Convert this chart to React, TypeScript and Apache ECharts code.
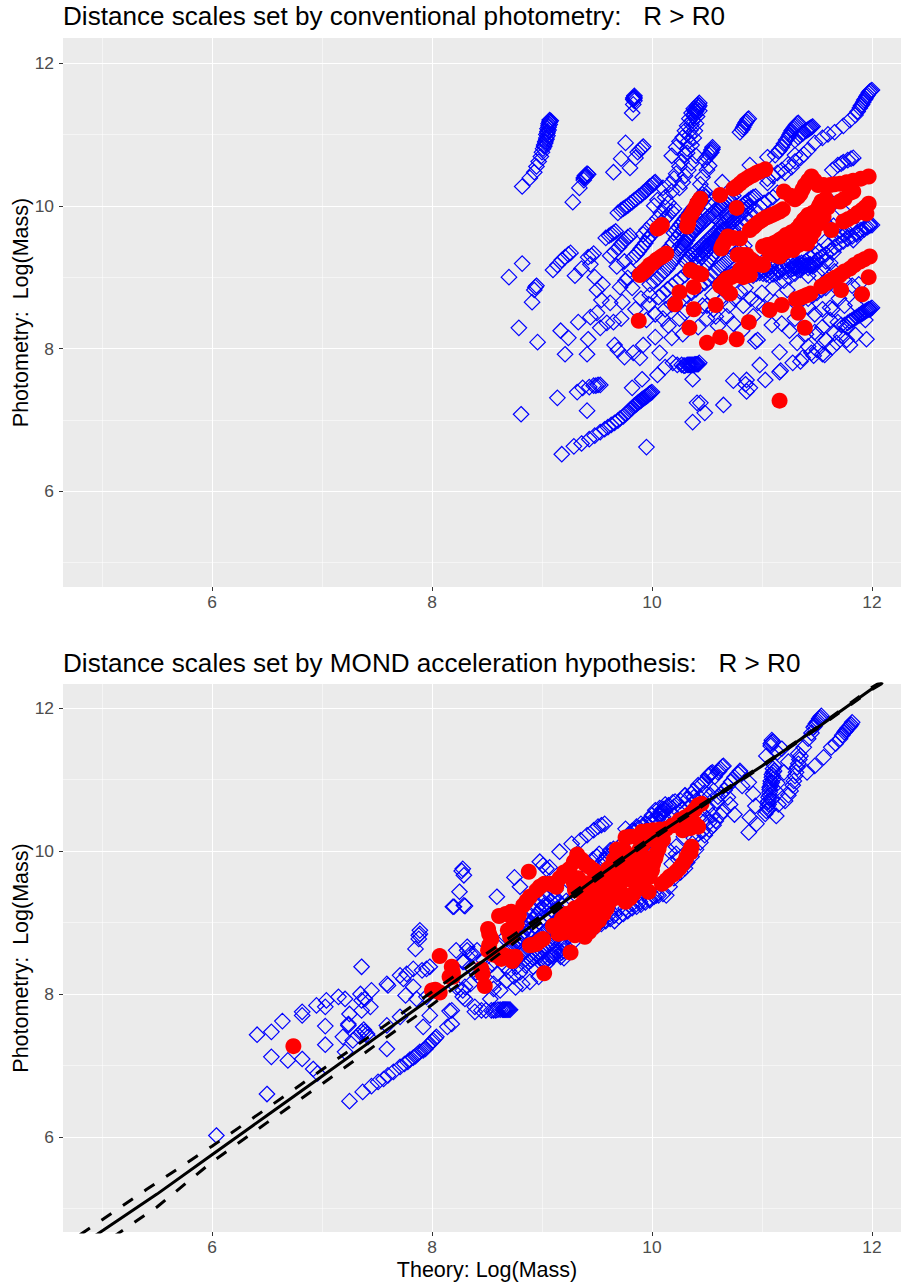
import React, { useEffect, useRef } from "react";
import * as echarts from "echarts";

const xMajor = [6, 8, 10, 12];
const yMajor = [6, 8, 10, 12];
const minorTicks = [5, 7, 9, 11];
const titleTop = "Distance scales set by conventional photometry:   R > R0";
const titleBottom = "Distance scales set by MOND acceleration hypothesis:   R > R0";
const yTitle = "Photometry:  Log(Mass)";
const xTitle = "Theory: Log(Mass)";

const blueTop: number[][] = [
[8.82,10.27],[8.89,10.39],[8.93,10.47],[8.95,10.55],[8.97,10.62],[8.99,10.69],[9.0,10.75],[9.01,10.8],[9.02,10.85],[9.03,10.9],[9.04,10.95],[9.04,11.0],[9.05,11.04],[9.05,11.08],[9.06,11.12],[9.06,11.15],[9.07,11.18],[9.07,11.2],[9.02,10.83],[9.03,10.88],[9.04,10.93],[9.05,10.98],[9.05,11.02],[9.06,11.06],[9.06,11.1],[9.07,11.14],[9.07,11.17],[9.08,11.19],
[9.82,11.3],[9.83,11.42],[9.84,11.47],[9.84,11.5],[9.84,11.52],[9.84,11.54],[9.83,11.49],[9.83,11.51],
[9.28,10.05],[9.34,10.25],[9.38,10.36],[9.39,10.4],[9.4,10.43],[9.41,10.45],[9.38,10.39],[9.39,10.42],[9.4,10.41],[9.42,10.44],
[9.65,10.47],[9.72,10.66],[9.76,10.88],[9.8,10.53],[9.85,10.67],[9.87,10.75],[9.89,10.78],[9.91,10.81],[9.92,10.83],
[9.69,9.9],[9.72,9.94],[9.74,9.96],[9.76,9.98],[9.78,10.0],[9.8,10.03],[9.82,10.05],[9.84,10.08],[9.86,10.1],[9.88,10.13],[9.9,10.15],[9.92,10.18],[9.94,10.2],[9.95,10.22],[9.97,10.25],[9.98,10.27],[10.0,10.29],[10.01,10.3],[10.02,10.32],[10.03,10.33],
[9.18,6.52],[9.29,6.63],[9.36,6.67],[9.43,6.73],[9.48,6.78],[9.53,6.83],[9.57,6.87],[9.6,6.9],[9.63,6.93],[9.66,6.96],[9.69,6.99],[9.71,7.02],[9.74,7.05],[9.76,7.08],[9.78,7.11],[9.8,7.14],[9.82,7.17],[9.84,7.2],[9.85,7.21],[9.86,7.22],[9.87,7.24],[9.88,7.25],[9.89,7.26],[9.9,7.27],[9.91,7.29],[9.92,7.3],[9.93,7.31],[9.94,7.32],[9.95,7.33],[9.96,7.34],[9.97,7.36],[9.98,7.37],[9.99,7.38],[10.0,7.39],
[8.7,9.0],[8.82,9.19],[8.94,8.86],[8.93,8.82],[8.95,8.88],[8.91,8.65],[8.79,8.29],[8.96,8.09],[9.17,8.25],[9.33,8.37],[9.24,8.15],[9.21,7.92],[9.42,8.13],[9.41,7.92],[9.54,8.68],[9.48,9.0],[9.5,8.5],[9.44,8.44],[9.53,8.29],[9.59,8.36],[9.65,8.37],[9.62,8.64],[9.73,8.65],[9.71,8.86],[9.78,8.99],[9.66,8.05],[9.69,7.98],[9.75,7.88],[9.83,7.94],[9.89,7.87],[9.92,8.05],[10.03,8.16],[10.07,7.94],[10.12,7.74],[10.05,7.63],[9.91,7.57],[9.82,7.45],
[9.43,7.46],[9.47,7.48],[9.49,7.48],[9.51,7.49],[9.53,7.49],[9.37,7.45],[9.32,7.39],[9.14,7.31],[9.41,7.13],[8.81,7.08],[9.95,6.62],[10.37,6.97],[10.41,7.24],[10.37,7.57],
[10.19,7.8],[10.23,7.77],[10.27,7.77],[10.29,7.76],[10.3,7.76],[10.32,7.77],[10.33,7.77],[10.34,7.77],[10.35,7.77],[10.36,7.77],[10.37,7.77],[10.38,7.77],[10.39,7.78],[10.4,7.78],[10.41,7.78],[10.42,7.78],[10.43,7.8],
[10.65,7.21],[10.48,7.1],[10.44,7.24],[10.86,7.56],[10.74,7.55],[10.89,7.45],[10.85,7.5],[10.86,7.4],[11.03,7.56],[10.98,7.77],[11.16,7.67],[11.17,7.69],[11.16,7.95],[11.28,7.8],[11.37,7.87],[11.35,7.82],[11.45,7.94],[11.5,7.98],[11.55,7.92],[11.57,7.91],[11.47,7.9],[11.32,8.08],[11.42,8.03],[11.48,8.23],[11.64,8.02],[11.68,8.08],[11.8,8.05],[11.77,8.12],[11.95,8.13],[11.85,8.19],[11.72,8.18],[10.96,8.12],[10.94,8.1],[11.09,8.33],[10.96,8.64],[10.83,8.6],[11.23,8.82],[11.48,8.48],[11.62,8.57],[11.64,8.55],[11.69,8.37],[11.77,8.3],[11.72,8.33],
[11.75,8.33],[11.78,8.36],[11.8,8.38],[11.82,8.4],[11.84,8.42],[11.86,8.44],[11.88,8.46],[11.89,8.47],[11.9,8.48],[11.91,8.49],[11.92,8.5],[11.93,8.51],[11.94,8.52],[11.95,8.53],[11.96,8.54],[11.97,8.55],[11.98,8.55],[11.99,8.56],[12.0,8.57],
[11.05,10.68],[11.16,10.78],[11.3,10.71],[11.21,10.46],[11.27,10.54],[11.35,10.67],[11.42,10.78],[11.48,10.88],[11.55,10.95],[11.6,11.0],[11.66,11.03],[11.74,11.12],[11.8,11.2],[11.85,11.27],[11.87,11.32],[11.89,11.37],[11.9,11.4],[11.91,11.42],[11.92,11.45],[11.93,11.48],[11.94,11.5],[11.95,11.53],[11.96,11.55],[11.97,11.58],[11.98,11.6],[11.99,11.61],[12.0,11.62],
[11.12,10.71],[11.15,10.76],[11.18,10.82],[11.2,10.87],[11.22,10.92],[11.24,10.96],[11.25,10.99],[11.26,11.02],[11.27,11.05],[11.28,11.07],[11.29,11.09],[11.3,11.11],[11.31,11.13],[11.32,11.15],[11.33,11.16],
[11.3,10.92],[11.33,10.96],[11.35,10.99],[11.37,11.01],[11.38,11.03],[11.4,11.05],[11.41,11.06],[11.42,11.07],[11.43,11.08],[11.44,11.09],[11.45,11.1],[11.46,11.11],
[10.8,11.03],[10.82,11.07],[10.83,11.1],[10.84,11.13],[10.85,11.16],[10.86,11.18],[10.87,11.21],[10.88,11.22],
[10.89,10.57],[10.64,10.33],[11.05,10.32],[10.48,10.64],[10.5,10.68],[10.53,10.74],[10.54,10.78],[10.55,10.82],[10.52,10.71],[10.54,10.75],[10.55,10.79],
[10.2,10.38],[10.22,10.45],[10.25,10.55],[10.27,10.62],[10.3,10.71],[10.32,10.8],[10.33,10.9],[10.34,10.98],[10.35,11.06],[10.36,11.14],[10.37,11.2],[10.38,11.26],[10.39,11.32],[10.4,11.36],[10.41,11.4],[10.42,11.42],[10.43,11.44],[10.39,11.28],[10.4,11.32],[10.41,11.35],[10.42,11.38],[10.43,11.4],
[10.18,10.7],[10.22,10.82],[10.25,10.9],[10.28,10.96],[10.3,11.05],[10.32,11.12],[10.34,11.22],[10.36,11.3],[10.38,11.36],[10.32,10.74],[10.36,10.85],[10.38,10.95],[10.39,11.05],[10.4,11.15],[10.41,11.25],[10.43,11.33],
[10.5,10.5],[10.52,10.56],[10.46,10.4],[10.44,10.3],[10.18,10.2],[10.12,10.12],[10.16,10.3],[10.1,10.25],[10.25,10.25],[10.28,10.33],[10.3,10.42],[10.33,10.5],[10.36,10.6],[10.4,10.7],
[11.44,9.28],[11.48,9.32],[11.52,9.36],[11.57,9.49],[11.6,9.44],[11.65,9.35],[11.68,9.55],[11.72,9.58],[11.75,9.6],[11.78,9.63],[11.83,9.52],[11.86,9.6],[11.9,9.63],[11.93,9.67],[11.96,9.7],[11.98,9.72],[12.0,9.73],
[11.64,10.5],[11.69,10.57],[11.72,10.59],[11.74,10.61],[11.78,10.64],[11.81,10.66],[11.83,10.67],
[11.73,9.94],[11.6,10.1],
[9.98,8.9],[10.02,8.94],[10.05,8.98],[10.08,9.03],[10.11,9.08],[10.14,9.12],[10.16,9.17],[10.19,9.22],[10.21,9.27],[10.24,9.32],[10.26,9.37],[10.28,9.42],[10.3,9.47],[10.32,9.52],[10.34,9.57],[10.36,9.62],[10.38,9.66],[10.4,9.7],[10.42,9.74],[10.44,9.78],
[10.06,8.72],[10.1,8.77],[10.14,8.83],[10.18,8.88],[10.22,8.93],[10.26,8.98],[10.3,9.03],[10.33,9.08],[10.36,9.13],[10.39,9.18],[10.42,9.23],[10.45,9.28],[10.48,9.33],[10.5,9.38],[10.53,9.43],[10.56,9.48],[10.58,9.53],[10.6,9.58],[10.62,9.62],[10.64,9.66],
[10.28,8.7],[10.32,8.74],[10.36,8.78],[10.4,8.83],[10.44,8.88],[10.48,8.92],[10.51,8.97],[10.54,9.02],[10.57,9.07],[10.6,9.12],[10.63,9.16],[10.66,9.2],[10.69,9.24],[10.72,9.28],[10.75,9.32],[10.78,9.36],[10.81,9.4],[10.84,9.44],
[10.1,9.3],[10.13,9.36],[10.16,9.42],[10.19,9.48],[10.22,9.54],[10.25,9.6],[10.28,9.66],[10.3,9.72],[10.33,9.78],[10.36,9.84],[10.38,9.9],[10.41,9.96],[10.43,10.02],[10.45,10.06],[10.47,10.1],[10.49,10.13],
[9.83,9.28],[9.86,9.32],[9.88,9.36],[9.9,9.4],[9.92,9.44],[9.94,9.48],[9.96,9.53],[9.98,9.57],[10.0,9.6],[10.03,9.66],[10.06,9.72],[10.09,9.77],[10.12,9.82],[10.15,9.87],[10.18,9.92],[10.2,9.96],
[9.62,9.3],[9.66,9.36],[9.7,9.42],[9.72,9.46],[9.74,9.5],[9.76,9.53],[9.78,9.56],[9.8,9.58],[9.68,9.15],[9.75,9.22],[9.8,9.1],[9.88,9.05],[9.76,8.95],[9.82,8.85],[9.9,8.7],[9.97,8.62],[9.95,8.4],[10.03,8.48],[10.12,8.55],[10.15,8.32],[10.25,8.42],[10.18,8.15],[10.28,8.2],[10.42,8.3],[10.5,8.42],[10.58,8.45],[10.46,8.6],[10.55,8.75],[10.6,8.32],[10.68,8.45],[10.74,8.35],[10.82,8.25],
[9.1,9.1],[9.14,9.17],[9.18,9.24],[9.21,9.28],[9.24,9.32],[9.26,9.34],[9.3,9.02],[9.36,9.12],[9.44,9.18],[9.5,8.82],[9.55,8.9],
[9.58,9.55],[9.61,9.58],[9.63,9.6],[9.65,9.62],[9.67,9.64],[9.42,9.28],[9.45,9.3],[9.47,9.33],
[10.6,8.9],[10.64,8.95],[10.68,9.0],[10.72,9.04],[10.76,9.08],[10.8,9.12],[10.84,9.14],[10.88,9.16],[10.92,9.18],[10.96,9.2],[11.0,9.2],[11.04,9.14],[11.08,9.14],[11.12,9.15],[11.16,9.15],[11.2,9.14],[11.24,9.15],[11.28,9.16],[11.32,9.18],[11.36,9.2],[11.4,9.22],[11.44,9.16],[11.48,9.2],
[10.7,9.55],[10.74,9.62],[10.78,9.68],[10.82,9.74],[10.86,9.8],[10.9,9.86],[10.94,9.92],[10.98,9.98],[11.02,10.04],[11.06,10.08],[11.1,10.12],[11.14,10.18],
[10.52,10.02],[10.56,10.08],[10.6,9.92],[10.65,10.0],[10.7,10.08],[10.74,10.14],[10.56,9.86],[10.62,9.78],[10.68,9.85],
[11.2,8.95],[11.25,9.0],[11.3,9.05],[11.35,9.1],[11.1,8.85],[11.0,8.78],[10.9,8.7],[10.85,8.85],[11.42,8.7],[11.46,8.74],[11.5,8.78],[11.54,8.82],[11.58,8.85],[11.62,8.4],[11.55,8.3],[11.5,8.2],[11.58,8.12],[11.66,8.22],[11.25,8.25],[11.18,8.35],[11.3,8.42],[11.4,8.2],[11.15,9.42],[11.25,9.38],[11.58,9.22],[11.66,9.08],[11.75,8.95],[11.82,8.88],[11.88,8.9],[11.9,8.75],[11.94,8.4],[11.85,8.62],[11.7,8.7],
];

const blueTopDense: number[][] = [
[10.3,9.22],[10.32,9.25],[10.34,9.28],[10.36,9.31],[10.38,9.33],[10.4,9.36],[10.42,9.39],[10.44,9.42],[10.46,9.45],[10.48,9.48],[10.5,9.51],[10.52,9.54],[10.54,9.57],[10.56,9.6],[10.58,9.63],[10.6,9.66],[10.62,9.7],[10.64,9.73],[10.66,9.76],[10.68,9.79],[10.7,9.82],[10.72,9.85],[10.74,9.88],[10.76,9.91],[10.78,9.94],[10.8,9.97],[10.82,10.0],[10.84,10.03],[10.86,10.05],[10.88,10.08],[10.9,10.1],[10.92,10.12],[10.94,10.13],
[10.24,9.4],[10.26,9.44],[10.28,9.47],[10.3,9.5],[10.32,9.54],[10.34,9.58],[10.36,9.61],[10.38,9.64],[10.4,9.67],[10.42,9.7],[10.44,9.73],[10.46,9.76],[10.48,9.79],[10.5,9.82],[10.52,9.85],[10.54,9.88],[10.56,9.91],[10.58,9.94],[10.6,9.97],[10.62,10.0],[10.64,10.03],[10.66,10.06],[10.68,10.08],[10.7,10.1],[10.72,10.12],
[10.4,9.28],[10.42,9.31],[10.44,9.34],[10.46,9.37],[10.48,9.4],[10.5,9.43],[10.52,9.46],[10.54,9.49],[10.56,9.52],[10.58,9.55],[10.6,9.58],[10.62,9.6],[10.64,9.63],[10.66,9.66],[10.68,9.69],[10.7,9.72],[10.72,9.75],[10.74,9.78],[10.76,9.81],[10.78,9.84],[10.8,9.87],[10.82,9.9],[10.84,9.93],[10.86,9.96],[10.88,9.99],
[10.2,9.62],[10.22,9.66],[10.24,9.7],[10.26,9.74],[10.28,9.78],[10.3,9.82],[10.32,9.86],[10.34,9.9],[10.36,9.94],[10.38,9.98],[10.42,10.08],[10.44,10.12],[10.46,10.16],[10.48,10.2],
[10.5,9.2],[10.52,9.24],[10.54,9.28],[10.56,9.32],[10.58,9.36],[10.6,9.4],[10.62,9.44],[10.64,9.48],[10.66,9.52],[10.68,9.56],[10.7,9.6],[10.72,9.64],[10.74,9.68],
[11.28,9.12],[11.3,9.13],[11.32,9.14],[11.34,9.15],[11.36,9.16],[11.38,9.15],[11.4,9.16],[11.42,9.17],[11.44,9.18],[11.46,9.15],[11.48,9.17],[11.3,9.18],[11.34,9.19],[11.38,9.2],[11.42,9.13],[11.36,9.12],[11.33,9.1],
[10.92,9.02],[10.95,9.05],[10.98,9.06],[11.01,9.05],[11.04,9.04],[11.07,9.02],[11.1,9.04],[11.13,9.05],[11.16,9.07],[11.02,9.1],[11.05,9.1],[11.08,9.08],[10.98,9.12],
[11.15,9.1],[11.18,9.12],[11.22,9.08],[11.26,9.1],
[11.5,9.24],[11.54,9.28],[11.58,9.32],[11.62,9.37],[11.66,9.42],[11.7,9.46],[11.74,9.5],[11.78,9.54],[11.82,9.57],[11.86,9.62],[11.9,9.66],[11.94,9.7],[11.98,9.74],
[11.05,10.38],[11.1,10.42],[11.14,10.46],[11.18,10.5],[11.24,10.58],[11.3,10.62],[11.38,10.72],
[10.5,8.6],[10.56,8.55],[10.62,8.65],[10.7,8.6],[10.75,8.7],[10.8,8.8],[10.92,8.45],[11.02,8.58],[11.12,8.65],[10.3,8.5],[10.18,8.62],[10.1,8.42],[9.98,8.75],[9.85,8.55],[9.72,8.42],[11.55,8.55],[11.42,8.58],[11.32,8.62],[11.75,8.6],
[11.65,9.72],[11.58,9.75],[11.7,9.65],[11.8,9.74],[11.85,9.7],[11.5,9.05],[11.55,9.12],[11.62,9.2],[11.68,8.85],[11.42,9.02],
[10.05,9.82],[10.08,9.9],[10.12,9.98],[10.15,10.04],[10.0,9.74],[9.95,9.66],[9.92,9.6],[10.02,10.0],[10.05,10.08],
];

const redTop: number[][] = [
[9.88,8.39],[9.89,9.03],[9.92,9.07],[9.94,9.1],[9.96,9.13],[9.98,9.17],[10.01,9.2],[10.04,9.24],[10.07,9.27],[10.09,9.29],[10.11,9.31],[10.13,9.33],
[10.05,9.68],[10.07,9.7],[10.09,9.73],
[10.32,9.71],[10.33,9.76],[10.33,9.82],[10.36,9.88],[10.38,9.94],[10.4,9.99],[10.41,10.03],[10.43,10.07],[10.44,10.1],
[10.62,10.15],[10.77,9.97],[10.74,10.24],[10.77,10.27],[10.8,10.31],[10.83,10.35],[10.86,10.38],[10.89,10.41],[10.92,10.43],[10.95,10.46],[10.98,10.48],[11.03,10.51],
[10.63,9.4],[10.64,9.44],[10.65,9.47],[10.67,9.52],[10.69,9.57],[10.74,9.55],[10.8,9.54],
[10.89,9.66],[10.92,9.7],[10.94,9.73],[10.97,9.77],[11.0,9.8],[11.03,9.83],[11.06,9.85],[11.09,9.87],[11.12,9.89],[11.16,9.92],[11.19,9.95],
[11.2,10.2],[11.26,10.14],[11.3,10.09],[11.33,10.13],[11.35,10.17],[11.37,10.23],[11.39,10.29],[11.42,10.35],[11.45,10.41],[11.48,10.35],[11.51,10.29],[11.56,10.29],[11.62,10.29],[11.66,10.3],[11.71,10.31],[11.77,10.33],[11.83,10.35],[11.9,10.38],[11.97,10.41],[11.83,10.2],[11.71,10.06],[11.75,10.1],[11.8,10.18],[11.63,9.66],
[11.54,10.06],[11.52,10.0],[11.5,9.94],[11.46,9.9],[11.42,9.87],[11.4,9.83],[11.38,9.8],[11.35,9.74],[11.32,9.68],[11.27,9.63],[11.22,9.59],[11.19,9.55],[11.16,9.52],[11.13,9.49],[11.1,9.47],[11.05,9.45],[11.01,9.43],[11.16,9.29],[11.12,9.31],[11.07,9.33],[11.25,9.43],[11.33,9.45],[11.41,9.47],[11.47,9.64],[11.44,9.55],[11.52,9.75],[11.56,9.85],[11.6,9.98],[11.58,10.1],
[11.2,9.35],[11.28,9.38],[11.36,9.55],[11.28,9.52],[11.2,9.46],[11.12,9.4],[11.42,9.65],[11.36,9.66],[11.48,9.78],[11.54,9.95],[11.46,9.72],
[11.74,9.78],[11.78,9.81],[11.83,9.85],[11.87,9.9],[11.91,9.94],[11.94,9.98],[11.97,10.03],[11.95,9.89],
[10.78,9.31],[10.82,9.31],[10.86,9.31],[10.9,9.25],[10.94,9.19],[10.98,9.18],[11.01,9.17],[10.89,9.03],[10.83,9.0],[10.77,9.03],[10.72,9.0],[10.68,8.98],[10.65,8.93],[10.62,8.88],[10.67,8.83],[10.71,8.77],[10.8,9.1],[10.86,9.1],[10.9,9.15],
[10.35,9.1],[10.45,9.04],[10.41,9.06],[10.38,8.86],[10.25,8.79],[10.21,8.62],[10.38,8.55],[10.34,8.29],[10.58,8.61],
[11.54,8.87],[11.58,8.91],[11.62,8.95],[11.66,8.99],[11.71,9.03],[11.75,9.08],[11.8,9.12],[11.84,9.17],[11.89,9.22],[11.93,9.25],[11.98,9.29],
[11.97,9.0],[11.91,8.76],[11.72,8.82],[11.31,8.69],[11.44,8.77],[11.38,8.73],[11.35,8.71],[11.41,8.75],[11.18,8.61],[11.07,8.54],[11.33,8.5],[11.39,8.29],[10.88,8.37],[10.62,8.16],[10.77,8.13],[10.5,8.08],[11.16,7.27],
];

const blueBottom: number[][] = [
[11.41,11.1],[11.48,11.19],[11.56,11.31],[11.63,11.45],[11.67,11.5],[11.71,11.57],[11.73,11.62],[11.75,11.66],[11.76,11.68],[11.77,11.7],[11.78,11.72],[11.79,11.73],[11.8,11.75],[11.81,11.77],[11.82,11.8],
[11.38,11.45],[11.42,11.57],[11.45,11.65],[11.47,11.73],[11.48,11.75],[11.49,11.78],[11.5,11.8],[11.51,11.82],[11.52,11.85],[11.53,11.87],[11.54,11.89],
[10.88,10.26],[10.95,10.38],[11.03,10.52],[11.04,10.56],[11.05,10.62],[11.06,10.75],[11.06,10.7],[11.07,10.82],[11.07,10.89],[11.08,10.94],[11.08,10.98],[11.09,11.03],[11.09,11.07],[11.1,11.1],[11.1,11.15],[11.11,11.2],[11.05,10.68],[11.06,10.58],[11.09,10.72],[11.12,10.85],[11.14,10.95],[11.15,10.65],[11.06,10.65],[11.07,10.78],[11.07,10.86],[11.08,10.91],[11.09,10.96],[11.1,11.0],[11.1,11.05],[11.11,11.12],
[11.13,10.49],[11.21,10.7],[11.24,10.78],[11.26,10.84],[11.28,10.92],[11.29,10.98],[11.3,11.05],[11.31,11.1],[11.32,11.17],[11.33,11.22],[11.34,11.28],[11.35,11.33],[11.33,11.36],
[11.09,11.52],[11.08,11.5],[11.08,11.47],[11.1,11.53],[11.09,11.55],[11.04,11.33],[11.18,11.43],[11.14,11.38],[11.2,11.1],[11.24,11.25],
[10.75,10.51],[10.89,10.47],[10.94,10.63],[10.92,10.8],[10.82,10.91],[10.88,10.96],[10.8,11.1],
[10.19,10.68],[10.3,10.77],[10.38,10.84],[10.45,10.93],[10.48,10.98],[10.51,11.05],[10.52,11.06],[10.53,11.08],[10.54,11.09],[10.55,11.1],
[10.65,11.19],[10.64,11.18],[10.62,11.15],[10.61,11.12],[10.6,11.1],[10.57,11.04],[10.8,11.12],[10.78,11.08],[10.75,11.03],[10.72,10.97],[10.69,10.91],[10.66,10.85],[10.63,10.8],[10.6,10.76],[10.56,10.84],[10.53,10.78],[10.47,10.5],[10.59,10.7],[10.69,10.75],[10.65,10.56],[10.71,10.65],[10.5,10.6],[10.55,10.5],[10.42,10.46],
[10.12,10.56],[10.07,10.6],[10.12,10.65],
[6.5,6.6],[6.41,7.43],[6.54,7.47],[6.64,7.62],[6.54,7.12],[6.69,7.07],[6.82,7.09],[6.82,7.75],[6.82,7.7],[6.92,6.95],[6.96,6.89],[6.95,7.84],[7.03,7.55],[7.03,7.29],[7.04,7.91],[7.03,7.82],[7.15,7.96],[7.21,7.93],[7.19,7.4],[7.21,7.19],[7.24,7.56],[7.25,7.72],[7.35,8.0],[7.36,7.91],[7.39,7.93],[7.44,7.82],[7.45,8.05],[7.36,8.38],[7.36,7.77],[7.33,7.42],[7.36,7.47],[7.39,7.47],[7.41,7.44],[7.38,7.5],[7.42,7.4],[7.28,7.35],[7.24,7.58],[7.59,7.56],[7.59,7.23],[7.71,7.68],[7.6,8.12],[7.59,8.14],[7.76,7.98],[7.83,8.1],[7.74,8.21],[7.71,8.26],[7.77,8.28],[7.83,8.35],[7.91,8.33],[7.95,8.35],[7.98,8.38],[7.85,8.63],[7.88,8.77],[7.89,8.84],[7.88,8.82],[7.89,8.89],[7.92,7.54],[8.14,7.54],[7.98,7.7],[8.16,7.76],[7.86,7.93],[7.95,7.96],[8.19,9.22],[8.3,9.23],[8.32,8.61],[8.29,8.45],[8.35,8.56],[8.41,8.61],[8.39,7.82],[8.28,7.96],[8.3,8.1],
[7.25,6.5],[7.37,6.63],[7.45,6.71],[7.51,6.77],[7.56,6.81],[7.6,6.86],[7.65,6.91],[7.71,6.98],[7.75,7.02],[7.78,7.05],[7.8,7.08],[7.83,7.11],[7.85,7.13],[7.87,7.16],[7.89,7.19],[7.92,7.21],[7.94,7.23],[7.96,7.27],[7.98,7.3],[8.0,7.33],[8.01,7.35],[8.03,7.38],[8.04,7.4],
[6.04,6.02],
[8.28,9.75],[8.27,9.72],[8.29,9.66],[8.25,9.43],[8.2,9.22],[8.29,9.24],[8.59,9.36],[8.75,9.63],[8.8,9.5],[8.98,9.85],[9.04,9.75],[9.07,9.77],[9.01,9.8],[9.16,9.99],[9.27,10.1],[9.35,10.15],[9.41,10.22],[9.47,10.29],[9.51,10.34],[9.54,10.36],[9.57,10.38],[9.76,10.31],[10.03,10.57],[10.1,10.59],[10.08,10.52],[10.15,10.64],[10.21,10.69],[10.3,10.78],[10.36,10.8],[10.42,10.92],[9.95,10.38],[9.98,10.45],[10.0,10.5],
[8.76,8.09],[8.89,8.17],[8.97,8.24],[8.82,8.14],[8.68,8.19],[8.62,8.05],[8.56,8.07],[8.53,7.93],[8.3,7.93],[8.39,7.75],[8.45,7.77],[8.49,7.77],[8.54,7.77],[8.56,7.77],[8.58,7.77],[8.6,7.78],[8.62,7.78],[8.64,7.78],[8.65,7.78],[8.66,7.78],[8.67,7.78],[8.68,7.78],[8.69,7.78],[8.7,7.78],[8.71,7.78],[8.18,7.77],[8.18,7.58],
[10.13,9.38],[10.04,9.38],[9.98,9.31],[9.89,9.29],[9.8,9.35],[10.22,10.06],[10.29,10.2],[10.38,10.18],[10.16,10.0],[10.22,9.96],
[9.22,8.66],[9.16,8.56],[9.07,8.47],[8.92,8.38],[8.77,8.38],[9.62,9.12],[9.56,9.87],[9.59,9.94],[9.62,10.01],[9.65,10.03],[10.07,10.5],
[8.32,8.66],[8.22,8.61],[8.37,8.56],[8.28,8.45],[8.35,8.38],[8.47,8.47],[8.59,8.28],[8.56,8.14],[8.35,8.14],[8.28,8.05],[8.22,8.1],
[8.4,8.3],[8.44,8.22],[8.5,8.35],[8.55,8.42],[8.6,8.5],[8.66,8.4],[8.7,8.32],[8.74,8.25],[8.8,8.3],[8.85,8.4],[8.9,8.48],[8.95,8.55],[9.0,8.5],[9.04,8.42],[9.1,8.55],[9.12,8.62],[9.18,8.7],[9.2,8.75],[9.24,8.8],[9.28,8.72],
[8.72,8.62],[8.78,8.72],[8.82,8.78],[8.86,8.84],[8.9,8.9],[8.94,8.95],[8.98,9.0],[9.02,9.06],[9.06,9.1],[9.1,9.16],[9.14,9.2],[9.18,9.25],[8.6,8.7],[8.66,8.78],[8.7,8.85],[8.76,8.92],[8.8,8.98],[8.84,9.04],[8.88,9.1],[8.92,9.16],[8.96,9.22],[9.0,9.28],[9.04,9.34],[9.08,9.4],[9.12,9.45],
[9.3,8.85],[9.36,8.95],[9.42,9.05],[9.48,9.12],[9.54,9.02],[9.6,9.2],[9.66,9.1],[9.7,9.2],[9.75,9.3],[9.72,9.4],[9.68,9.62],[9.72,9.7],[9.78,9.72],[9.6,9.65],[9.35,9.58],[9.38,9.62],[9.4,9.66],[9.42,9.7],[9.44,9.75],[9.22,9.3],[9.2,9.42],
[9.88,10.02],[9.92,10.05],[9.84,10.28],[9.88,10.32],[9.92,10.36],[9.96,10.3],[10.0,10.42],[10.05,10.44],[10.1,10.48],[10.2,10.5],[10.28,10.58],[10.34,10.62],[10.4,10.7],[10.44,10.74],[10.48,10.82],
[10.1,9.55],[10.16,9.5],[10.2,9.62],[10.26,9.7],[10.32,9.84],[10.36,9.92],[10.4,10.02],[10.44,10.12],[10.48,10.22],[10.52,10.3],[10.56,10.36],
];

const blueBottomDense: number[][] = [
[8.78,8.5],[8.8,8.53],[8.82,8.56],[8.84,8.59],[8.86,8.62],[8.88,8.65],[8.9,8.68],[8.92,8.71],[8.94,8.74],[8.96,8.77],[8.98,8.8],[9.0,8.83],[9.02,8.86],[9.04,8.89],[9.06,8.92],[9.08,8.95],[9.1,8.98],[9.12,9.01],[9.14,9.04],[9.16,9.07],
[8.88,8.45],[8.9,8.47],[8.92,8.5],[8.94,8.52],[8.96,8.55],[8.98,8.58],[9.0,8.6],[9.02,8.63],[9.04,8.66],[9.06,8.68],[9.08,8.71],[9.1,8.74],[9.12,8.77],[9.14,8.8],[9.16,8.83],[9.18,8.86],[9.2,8.89],[9.22,8.92],
[9.0,8.42],[9.02,8.45],[9.04,8.48],[9.06,8.5],[9.08,8.53],[9.1,8.52],[9.12,8.56],[9.14,8.58],[9.16,8.6],[9.18,8.58],[9.2,8.6],[9.2,8.5],[9.17,8.52],
[8.68,8.6],[8.7,8.63],[8.72,8.66],[8.74,8.69],[8.76,8.72],[8.78,8.76],[8.8,8.8],[8.82,8.84],[8.84,8.88],[8.86,8.92],[8.88,8.96],[8.9,9.0],[8.92,9.04],[8.94,9.08],[8.96,9.12],[8.98,9.16],[9.0,9.2],[9.02,9.24],[9.04,9.22],[9.06,9.26],[9.08,9.3],[9.1,9.33],[9.12,9.35],
[9.5,8.95],[9.54,8.98],[9.58,9.02],[9.62,9.05],[9.66,9.02],[9.7,9.08],[9.74,9.12],[9.78,9.16],[9.82,9.2],[9.86,9.22],[9.9,9.25],[9.94,9.28],[9.98,9.33],[10.02,9.36],[10.06,9.38],[10.1,9.4],[9.76,9.2],[9.82,9.26],[9.88,9.32],
[9.46,9.88],[9.5,9.92],[9.52,9.96],[9.55,9.84],[9.58,9.88],[9.62,9.95],[9.66,10.0],[9.7,10.05],[9.74,10.12],[9.78,10.22],[9.82,10.28],[9.86,10.34],[9.9,10.38],
[10.0,10.38],[10.04,10.45],[10.06,10.5],[10.08,10.55],[10.1,10.54],[10.12,10.58],[10.14,10.62],[10.2,10.62],[10.26,10.7],[10.32,10.72],[10.38,10.75],
[10.18,9.82],[10.24,9.88],[10.3,9.76],[10.42,10.24],[10.46,10.28],[10.52,10.4],[10.58,10.42],[10.62,10.5],[10.5,10.45],
];

const redBottom: number[][] = [
[6.74,7.27],[8.0,8.05],[8.03,8.06],[8.07,8.53],[8.07,8.02],[8.18,8.38],[8.19,8.3],[8.19,8.24],[8.16,8.24],[8.45,8.35],[8.46,8.28],[8.48,8.11],
[8.51,8.91],[8.52,8.84],[8.54,8.77],[8.52,8.68],[8.51,8.61],[8.56,8.55],[8.63,8.49],[8.7,8.52],[8.76,8.52],[8.73,8.46],[8.66,8.54],
[8.61,9.09],[8.67,9.12],[8.72,9.15],[8.74,9.05],[8.77,8.98],[8.71,8.8],[8.69,8.89],[8.73,8.92],[8.79,9.1],[8.83,9.24],[8.86,9.3],[8.89,9.36],[8.95,9.45],[8.98,9.5],[9.02,9.54],[9.07,9.54],[8.88,9.71],
[8.89,8.68],[8.92,8.69],[8.95,8.7],[8.98,8.74],[9.01,8.77],[9.02,8.29],[9.26,8.58],
[9.13,9.5],[9.16,9.62],[9.2,9.7],[9.25,9.75],[9.29,9.85],[9.32,9.95],[9.36,9.88],[9.39,9.82],[9.43,9.78],[9.47,9.73],[9.3,9.45],[9.29,9.55],[9.33,9.62],
[9.15,8.84],[9.2,8.86],[9.25,8.87],[9.3,8.82],[9.39,8.8],[9.43,8.87],[9.47,8.94],[9.52,9.03],[9.56,9.12],[9.59,9.2],[9.5,9.22],[9.44,9.15],[9.38,9.12],[9.32,9.03],[9.28,8.95],[9.35,8.95],[9.42,9.0],
[9.44,9.31],[9.48,9.34],[9.53,9.36],[9.57,9.48],[9.62,9.59],[9.53,9.64],[9.58,9.62],[9.6,9.75],[9.65,9.87],[9.5,9.5],[9.4,9.4],[9.3,9.2],[9.22,9.12],[9.36,9.25],[9.46,9.42],
[9.76,10.19],[9.8,10.2],[9.85,10.2],[9.91,10.27],[9.96,10.28],[10.01,10.29],[10.07,10.3],[10.13,10.31],[10.19,10.36],[10.25,10.43],[10.3,10.47],[10.35,10.52],[10.39,10.58],[10.42,10.64],[10.45,10.66],[10.42,10.34],[10.35,10.32],[10.28,10.29],[10.32,10.36],[10.38,10.4],
[9.76,9.29],[9.8,9.34],[9.83,9.4],[9.86,9.47],[9.89,9.54],[9.93,9.48],[9.97,9.43],[9.98,9.64],[10.0,9.73],[10.01,9.82],[10.03,9.9],[10.04,9.96],[10.06,10.03],[10.07,10.1],[10.1,10.16],[9.86,9.96],[9.8,9.87],[9.89,10.03],[9.92,10.1],[9.71,9.78],[9.75,9.82],[9.95,10.15],
[9.7,9.5],[9.75,9.65],[9.78,9.72],[9.85,9.75],[9.92,9.85],[9.95,9.9],[9.64,9.42],[9.68,9.35],[9.72,9.42],
[10.09,9.54],[10.13,9.59],[10.16,9.64],[10.19,9.67],[10.22,9.71],[10.25,9.76],[10.28,9.82],[10.31,9.9],[10.33,9.96],[10.35,10.02],[10.36,10.06],[10.35,9.98],
[9.1,8.95],[9.18,9.05],[9.42,9.55],[9.48,9.6],[9.62,9.3],[9.68,9.62],[9.8,9.6],[9.9,9.7],[9.62,9.72],[9.7,9.9],[9.75,10.0],[9.68,10.02],
];

const solidLine: number[][] = [[4.9,4.58],[5.5,5.2],[6,5.75],[6.5,6.3],[7,6.85],[7.5,7.4],[8,7.95],[8.5,8.5],[9,9.06],[9.5,9.63],[10,10.18],[10.5,10.69],[11,11.19],[11.5,11.72],[12,12.27],[12.1,12.36]];
const upperLine: number[][] = [[4.8,4.63],[5.4,5.26],[6,5.87],[6.5,6.4],[7,6.94],[7.5,7.48],[8,8.03],[8.5,8.57],[9,9.1],[9.5,9.66],[10,10.2],[10.5,10.7],[11,11.2],[11.5,11.73],[12,12.29],[12.1,12.38]];
const lowerLine: number[][] = [[5.1,4.6],[5.5,5.02],[6,5.65],[6.5,6.2],[7,6.74],[7.5,7.3],[8,7.85],[8.5,8.43],[9,9.01],[9.5,9.6],[10,10.16],[10.5,10.67],[11,11.18],[11.5,11.71],[12,12.26],[12.1,12.35]];

const xRange = [4.6455, 12.264];
const yRangeTop = [4.66, 12.35];
const yRangeBottom = [4.67, 12.336];

const FONT = "Liberation Sans";

function axisX(gridIndex: number, name?: string) {
  return {
    type: "value", gridIndex, min: xRange[0], max: xRange[1],
    name, nameLocation: "middle", nameGap: 27,
    nameTextStyle: { fontFamily: FONT, fontSize: 21.5, color: "#000", padding: [0, 0, 0, 10] },
    axisLine: { show: false },
    axisTick: { show: true, length: 4, customValues: xMajor, lineStyle: { color: "#333", width: 1 } },
    axisLabel: { show: true, customValues: xMajor, margin: 6, fontFamily: FONT, fontSize: 17.4, color: "#4D4D4D" },
    splitLine: { show: true, lineStyle: { color: "#fff", width: 1 } },
  };
}
function axisY(gridIndex: number, range: number[]) {
  return {
    type: "value", gridIndex, min: range[0], max: range[1],
    name: yTitle, nameLocation: "middle", nameGap: 31, nameMoveOverlap: false,
    nameTextStyle: { fontFamily: FONT, fontSize: 21.5, color: "#000" },
    axisLine: { show: false },
    axisTick: { show: true, length: 4, customValues: yMajor, lineStyle: { color: "#333", width: 1 } },
    axisLabel: { show: true, customValues: yMajor, margin: 9, fontFamily: FONT, fontSize: 17.4, color: "#4D4D4D" },
    splitLine: { show: true, lineStyle: { color: "#fff", width: 1 } },
  };
}
function minorGrid(i: number) {
  return {
    type: "scatter", xAxisIndex: i, yAxisIndex: i, data: [], silent: true,
    markLine: {
      silent: true, symbol: "none", z: 1, label: { show: false },
      lineStyle: { color: "#fff", width: 0.5, type: "solid", opacity: 1 },
      data: [...minorTicks.map((v) => ({ xAxis: v })), ...minorTicks.map((v) => ({ yAxis: v }))],
    },
  };
}
function blue(i: number, data: number[][]) {
  return {
    type: "scatter", xAxisIndex: i, yAxisIndex: i, data, z: 3, symbol: "diamond", symbolSize: 15.5,
    itemStyle: { color: "rgba(0,0,0,0)", borderColor: "#0000FF", borderWidth: 1.2, opacity: 1 },
    emphasis: { disabled: true },
  };
}
function red(i: number, data: number[][]) {
  return {
    type: "scatter", xAxisIndex: i, yAxisIndex: i, data, z: 4, symbol: "circle", symbolSize: 16,
    itemStyle: { color: "#FF0000", opacity: 1 }, emphasis: { disabled: true },
  };
}
function line(data: number[][], dashed: boolean) {
  return {
    type: "line", xAxisIndex: 1, yAxisIndex: 1, data, z: 5, symbol: "none", smooth: false, clip: true,
    lineStyle: { color: "#000", width: 3, type: dashed ? [12, 14] : "solid", cap: "butt" },
    emphasis: { disabled: true },
  };
}

export default function App() {
  const ref = useRef<HTMLDivElement>(null);
  useEffect(() => {
    document.body.style.margin = "0";
    const chart = echarts.init(ref.current!, null, { renderer: "svg" });
    chart.setOption({
      animation: false,
      backgroundColor: "#fff",
      title: [
        { text: titleTop, left: 63, top: 3, padding: 0, textStyle: { fontFamily: FONT, fontSize: 26.1, fontWeight: "normal", color: "#000" } },
        { text: titleBottom, left: 63, top: 650, padding: 0, textStyle: { fontFamily: FONT, fontSize: 26.1, fontWeight: "normal", color: "#000" } },
      ],
      grid: [
        { left: 63, top: 38, width: 838, height: 549, show: true, backgroundColor: "#EBEBEB", borderWidth: 0, outerBoundsMode: "none" },
        { left: 63, top: 684, width: 838, height: 548, show: true, backgroundColor: "#EBEBEB", borderWidth: 0, outerBoundsMode: "none" },
      ],
      xAxis: [axisX(0), axisX(1, xTitle)],
      yAxis: [axisY(0, yRangeTop), axisY(1, yRangeBottom)],
      series: [
        minorGrid(0), minorGrid(1),
        blue(0, [...blueTop, ...blueTopDense]), red(0, redTop),
        blue(1, [...blueBottom, ...blueBottomDense]), red(1, redBottom),
        line(solidLine, false), line(upperLine, true), line(lowerLine, true),
      ],
    });
    return () => chart.dispose();
  }, []);
  return <div ref={ref} style={{ width: 901, height: 1285 }} />;
}
